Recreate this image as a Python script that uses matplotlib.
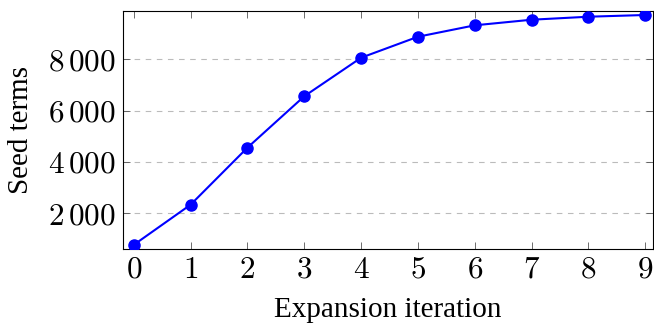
import matplotlib
matplotlib.use("Agg")
import matplotlib.pyplot as plt

# expansion iterations and number of seed terms
iterations = [0, 1, 2, 3, 4, 5, 6, 7, 8, 9]
seed_terms = [770, 2335, 4557, 6561, 8062, 8880, 9325, 9543, 9660, 9727]
y_ticks = [2000, 4000, 6000, 8000]
y_tick_labels = [r"$2\,000$", r"$4\,000$", r"$6\,000$", r"$8\,000$"]

plt.rcParams["mathtext.fontset"] = "cm"
plt.rcParams["font.family"] = ["Liberation Serif", "DejaVu Serif"]

fig = plt.figure(figsize=(6.54, 3.24), dpi=100)
ax = fig.add_axes([0.188, 0.2315, 0.81, 0.7345])

ax.plot(iterations, seed_terms, color="blue", lw=1.5, marker="o",
        markersize=8, zorder=3)

ax.set_xlim(-0.19, 9.13)
ax.set_ylim(609, 9882)
ax.set_xticks(iterations)
ax.set_xticklabels([r"$%d$" % i for i in iterations])
ax.set_yticks(y_ticks)
ax.set_yticklabels(y_tick_labels)

ax.yaxis.grid(True, linestyle=(0, (5, 5)), color="#bbbbbb", lw=0.8)
ax.set_axisbelow(True)

ax.tick_params(direction="in", top=True, right=True, length=5,
               width=0.6, color="#555555", labelsize=22.5, pad=5)
for s in ax.spines.values():
    s.set_linewidth(0.8)

ax.set_xlabel("Expansion iteration", fontsize=21, labelpad=9)
ax.set_ylabel("Seed terms", fontsize=21, labelpad=10)

fig.savefig("out.png", dpi=100)
